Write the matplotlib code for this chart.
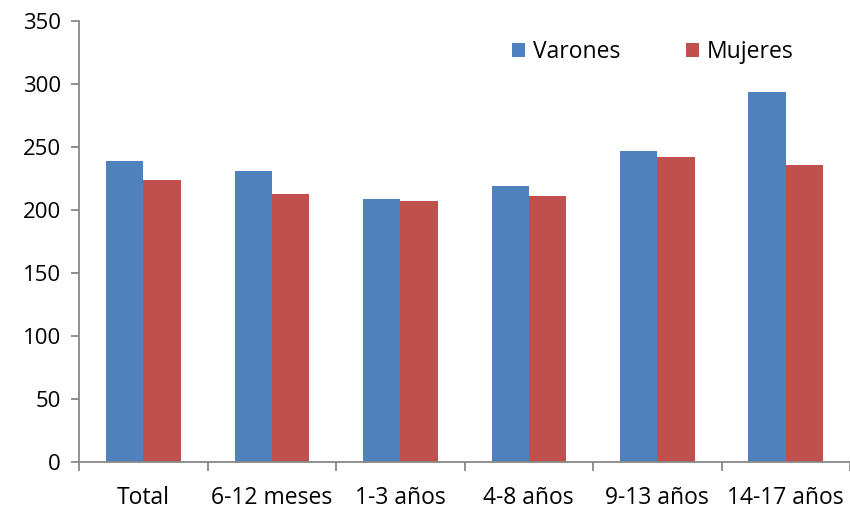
import numpy as np
import matplotlib.pyplot as plt

categories = ['Total', '6-12 meses', '1-3 años', '4-8 años', '9-13 años', '14-17 años']
varones = [239, 231, 209, 219, 247, 294]
mujeres = [224, 213, 207, 211, 242, 236]

plt.rcParams['font.family'] = ['Open Sans', 'DejaVu Sans']

fig = plt.figure(figsize=(8.5, 5.11), dpi=100)
ax = fig.add_axes([0.093, 0.096, 0.907, 0.863])

x = np.arange(len(categories))
w = 0.29
ax.bar(x - w / 2, varones, w, color='#4F81BD', label='Varones')
ax.bar(x + w / 2, mujeres, w, color='#C0504D', label='Mujeres')

ax.set_xlim(-0.5, len(categories) - 0.5)
ax.set_ylim(0, 350)
ax.set_yticks(range(0, 351, 50))
ax.set_xticks(x)
ax.set_xticklabels(categories)
ax.set_xticks(np.arange(-0.5, len(categories), 1), minor=True)

for s in ['top', 'right']:
    ax.spines[s].set_visible(False)
for s in ['left', 'bottom']:
    ax.spines[s].set_color('#888888')
    ax.spines[s].set_linewidth(1.3)

ax.tick_params(axis='y', length=6, color='#888888', width=1.3, labelsize=16, pad=7)
ax.tick_params(axis='x', which='major', length=0, labelsize=16.5, pad=17)
ax.tick_params(axis='x', which='minor', length=6.5, color='#888888', width=1.3)

ax.legend(loc='upper left', bbox_to_anchor=(0.578, 0.962), bbox_transform=fig.transFigure,
          ncol=2, frameon=False, fontsize=16.5, handlelength=0.55, handleheight=0.55,
          columnspacing=2.9, handletextpad=0.35)

plt.savefig('out.png', dpi=100)
plt.close()
